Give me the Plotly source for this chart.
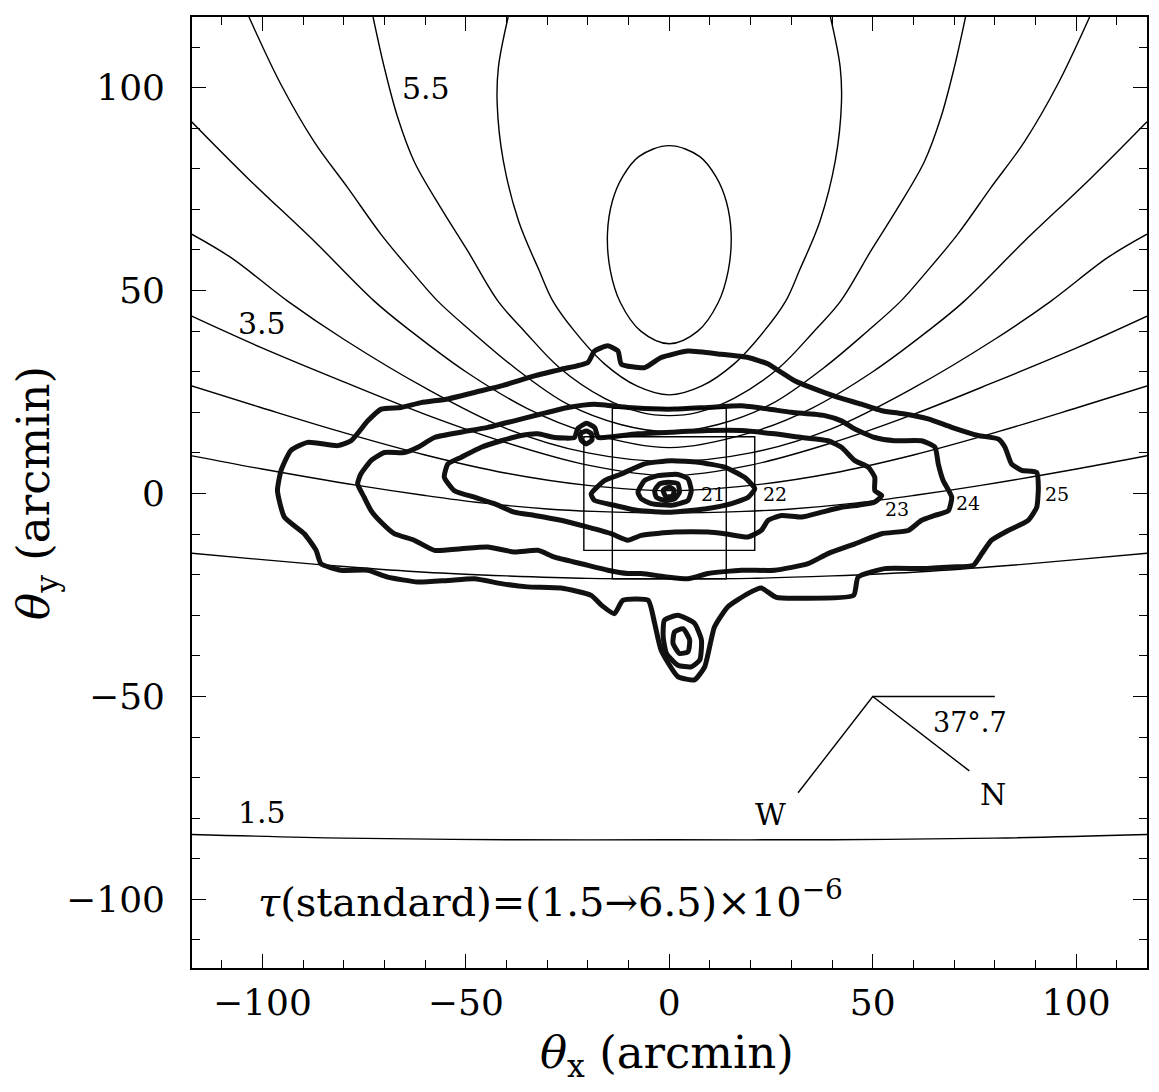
import math
import plotly.graph_objects as go

# ---------------- data (arcmin) ----------------
# optical-depth contours tau = 1.5 ... 6.5 (x 1e-6)
TAU_15_X = [-117.4, -80, -40, 0, 40, 80, 117.4]
TAU_15_Y = [-84.0, -84.9, -85.3, -85.3, -85.3, -84.9, -84.0]
TAU_20_X = [-117.4, -100, -80, -60, -40, -20, 0, 20, 40, 60, 80, 100, 117.4]
TAU_20_Y = [-14.7, -16.3, -18.0, -19.4, -20.3, -20.9, -21.0, -20.9, -20.3, -19.4, -18.0, -16.3, -14.7]
TAU_25_X = [-117.4, -100.4, -76.6, -60, -46.2, -30, -18.5, 0, 18.5, 30, 46.2, 60, 76.6, 100.4, 117.4]
TAU_25_Y = [9.3, 6.1, 2.0, -0.5, -2.3, -3.8, -4.4, -4.8, -4.4, -3.8, -2.3, -0.5, 2.0, 6.1, 9.3]
TAU_30_X = [-117.4, -100.4, -80, -60, -40, -20, 0, 20, 40, 60, 80, 100.4, 117.4]
TAU_30_Y = [26.5, 21.2, 15.0, 9.5, 5.0, 2.0, 0.7, 2.0, 5.0, 9.5, 15.0, 21.2, 26.5]
TAU_35_X = [-117.4, -100.4, -80, -60, -40, -20, 0, 20, 40, 60, 80, 100.4, 117.4]
TAU_35_Y = [43.7, 36.0, 27.5, 19.5, 12.5, 7.0, 4.4, 7.0, 12.5, 19.5, 27.5, 36.0, 43.7]
TAU_40_X = [-117.4, -107.7, -93.8, -80, -60, -40, -20, 0, 20, 40, 60, 80, 93.8, 107.7, 117.4]
TAU_40_Y = [63.9, 58.1, 47.4, 38.0, 26.0, 16.0, 10.0, 7.9, 10.0, 16.0, 26.0, 38.0, 47.4, 58.1, 63.9]
TAU_45_X = [-117.4, -103.6, -87.3, -72.5, -63.5, -50, -35, -20, 0, 20, 35, 50, 63.5, 72.5, 87.3, 103.6, 117.4]
TAU_45_Y = [91.6, 77.7, 62.2, 47.4, 40.0, 30.0, 21.0, 15.0, 11.3, 15.0, 21.0, 30.0, 40.0, 47.4, 62.2, 77.7, 91.6]
TAU_50_X = [-103.3, -95.4, -87.3, -79, -70.8, -62.7, -56.9, -48.7, -38, -25, -12, 0,
            12, 25, 38, 48.7, 56.9, 62.7, 70.8, 79, 87.3, 95.4, 103.3]
TAU_50_Y = [117.4, 100.7, 86.7, 75.3, 63.8, 54.0, 47.4, 40.0, 31.0, 22.0, 17.0, 15.2,
            17.0, 22.0, 31.0, 40.0, 47.4, 54.0, 63.8, 75.3, 86.7, 100.7, 117.4]
TAU_55_X = [-72.8, -70, -66.7, -62.7, -56.1, -49.5, -42.1, -35.6, -27, -16, -7, 0,
            7, 16, 27, 35.6, 42.1, 49.5, 56.1, 62.7, 66.7, 70, 72.8]
TAU_55_Y = [117.4, 104.8, 92.5, 81.8, 70.3, 59.7, 47.4, 40.0, 31.0, 23.5, 20.0, 19.2,
            20.0, 23.5, 31.0, 40.0, 47.4, 59.7, 70.3, 81.8, 92.5, 104.8, 117.4]
TAU_60_X = [-39.6, -42.0, -42.3, -40.8, -37, -32, -28.6, -23.3, -16, -8, 0,
            8, 16, 23.3, 28.6, 32, 37, 40.8, 42.3, 42.0, 39.6]
TAU_60_Y = [117.4, 105, 96, 82, 67, 55, 47.4, 40.0, 32.0, 26.5, 24.3,
            26.5, 32.0, 40.0, 47.4, 55, 67, 82, 96, 105, 117.4]
TAU_65_X = [0, 7.5, 11.5, 14, 15.2, 14.5, 12, 7, 0, -7, -12, -14.5, -15.2, -14, -11.5, -7.5, 0]
TAU_65_Y = [85.7, 83, 78, 72, 64, 55, 47, 40, 36.9, 40, 47, 55, 64, 72, 78, 83, 85.7]

# surface-brightness isophotes (mag arcsec^-2)
ISO_25_X = [-96.3, -95.4, -93.0, -88.9, -81.5, -78.2, -74.1, -70.8, -65.9, -61.0, -54.4, -47.9,
            -41.3, -33.1, -26.6, -20.0, -18.4, -15.1, -12.6, -11.8, -6.1, -2.0, 4.6, 12.8, 19.4,
            24.3, 27.6, 30.8, 34.9, 41.5, 47.2, 52.2, 57.1, 63.6, 69.4, 75.9, 80.9, 82.5, 84.1,
            86.6, 90.3, 90.7, 90.3, 88.2, 83.3, 79.2, 76.8, 74.7, 69.4, 62.0, 53.0, 46.4, 45.3,
            32.5, 26.3, 22.6, 19.4, 14.4, 11.1, 8.7, 6.2, 2.1, -2.0, -3.6, -5.2, -11.4, -13.5,
            -16.7, -19.2, -26.6, -34.8, -41.3, -47.9, -54.4, -61.8, -69.2, -74.1, -80.7, -85.6,
            -86.8, -89.7, -94.6, -96.3]
ISO_25_Y = [0.7, 5.7, 10.6, 12.6, 11.8, 13.0, 17.9, 20.8, 21.2, 22.4, 23.3, 24.9,
            26.5, 29.0, 30.6, 32.3, 35.1, 36.4, 35.1, 31.9, 31.0, 33.5, 35.1, 34.3, 33.5,
            31.9, 29.8, 27.8, 26.1, 23.7, 22.0, 20.4, 19.7, 18.4, 16.3, 14.3, 13.4, 11.4, 7.3,
            5.7, 5.2, 1.5, -3.4, -6.6, -9.1, -11.5, -14.8, -17.7, -18.1, -18.5, -18.5, -20.6, -25.1,
            -25.8, -25.6, -23.3, -24.6, -27.9, -32.9, -42.7, -45.9, -45.1, -38.6, -32.0, -26.3, -26.3, -29.6,
            -27.5, -25.1, -23.3, -23.0, -22.2, -21.0, -21.4, -21.8, -20.6, -18.9, -18.9, -17.3,
            -14.0, -9.9, -5.8, 0.7]
ISO_24_X = [-76.6, -75.8, -73.3, -70.0, -65.1, -61.8, -57.7, -51.2, -44.6, -38.1, -31.5, -24.9,
            -18.4, -10.2, -2.0, 1.3, 9.5, 17.7, 24.3, 30.0, 38.2, 42.3, 45.6, 50.5, 55.4, 62.0,
            65.3, 66.1, 67.3, 69.4, 68.6, 65.3, 62.0, 58.7, 52.2, 45.6, 39.0, 34.1, 25.9, 17.7,
            9.5, 4.6, -0.3, -6.9, -10.2, -15.1, -21.6, -28.2, -32.3, -38.1, -44.6, -51.2, -57.7,
            -62.7, -67.6, -70.8, -73.3, -75.0, -76.6]
ISO_24_Y = [2.4, 4.8, 8.1, 10.1, 10.1, 11.4, 13.8, 15.1, 16.3, 17.9, 19.6, 21.2,
            22.0, 21.2, 20.8, 20.8, 21.2, 21.6, 20.8, 20.0, 19.2, 17.9, 15.9, 13.8, 13.0, 13.0,
            11.4, 7.3, 3.2, -0.9, -4.2, -5.4, -6.6, -9.1, -9.9, -12.4, -14.8, -17.3, -18.9, -18.9,
            -19.7, -21.0, -20.6, -19.7, -19.7, -18.9, -17.3, -15.7, -14.0, -14.4, -13.2, -13.6, -14.0,
            -11.5, -9.9, -7.1, -4.2, -0.9, 2.4]
ISO_23_X = [-55.3, -54.4, -51.2, -46.2, -41.3, -36.4, -32.3, -28.2, -23.3, -22.5, -20.4, -18.3,
            -17.5, -15.9, -7.7, 0.5, 9.5, 17.7, 25.9, 32.5, 39.0, 42.3, 45.6, 48.9, 50.5, 50.5,
            52.2, 50.5, 46.4, 42.3, 37.4, 32.5, 27.6, 24.3, 22.6, 19.4, 13.6, 9.5, 1.3, -6.9,
            -10.2, -14.3, -20.0, -26.6, -33.1, -38.1, -43.0, -47.9, -52.8, -55.3]
ISO_23_Y = [4.0, 7.3, 8.9, 11.4, 13.0, 14.3, 14.7, 13.8, 13.8, 16.0, 17.3, 16.2,
            13.8, 13.8, 14.7, 15.1, 15.5, 15.5, 14.7, 13.8, 13.0, 11.4, 8.1, 6.5, 4.0, 0.7,
            -0.5, -2.1, -2.9, -3.4, -4.6, -5.8, -5.4, -6.6, -9.1, -10.7, -9.9, -9.5, -9.5, -10.3,
            -11.5, -9.9, -8.3, -6.6, -5.4, -4.6, -2.5, -0.9, 0.7, 4.0]
ISO_23B_X = [-20.4, -19.2, -19.0, -20.4, -21.7, -21.8, -20.4]
ISO_23B_Y = [15.4, 14.8, 13.2, 12.2, 13.2, 14.8, 15.4]
ISO_22_X = [-19.2, -15.9, -11.8, -6.1, 0.5, 7.1, 13.6, 18.5, 21.0, 19.4, 15.3, 8.7, 0.5, -7.7, -13.5, -18.4, -19.2]
ISO_22_Y = [-0.1, 3.2, 4.8, 7.3, 8.1, 7.7, 6.5, 4.0, 1.2, -0.9, -2.5, -3.8, -4.6, -4.2, -2.9, -1.7, -0.1]
ISO_21_X = [-7.7, -6.1, -2.8, 2.1, 4.6, 5.4, 4.6, 0.5, -4.4, -6.9, -7.7]
ISO_21_Y = [0.3, 3.2, 4.4, 4.7, 3.6, 0.7, -1.7, -2.9, -2.5, -1.3, 0.3]
ISO_20_X = [-3.6, -2.4, -0.3, 2.1, 2.5, 1.3, -1.2, -3.2, -3.6]
ISO_20_Y = [0.7, 2.4, 2.8, 2.4, 0.3, -1.3, -1.7, -0.9, 0.7]
ISO_19_X = [-1.5, 0.0, 1.2, 0.8, -0.8, -1.5]
ISO_19_Y = [0.8, 1.6, 0.8, -0.6, -0.8, 0.8]
SAT_OUT_X = [-1.2, 2.1, 6.2, 7.9, 7.5, 5.4, 2.1, -0.7, -1.5, -1.2]
SAT_OUT_Y = [-31.2, -30.0, -32.0, -36.1, -41.0, -42.7, -42.3, -39.4, -35.3, -31.2]
SAT_IN_X = [1.3, 3.4, 5.0, 4.6, 2.5, 0.9, 1.3]
SAT_IN_Y = [-34.1, -33.3, -36.1, -39.0, -39.4, -36.9, -34.1]

# survey fields (arcmin): full width / height of the two rectangles
FIELD_W = [42, 28]
FIELD_H = [28, 42]

# labels
TAU_LABELS = ["1.5", "3.5", "5.5"]
TAU_LABEL_X = [-100, -100, -59.7]
TAU_LABEL_Y = [-78.5, 42.0, 99.7]
ISO_LABELS = ["21", "22", "23", "24", "25"]
ISO_LABEL_X = [10.8, 26.0, 56.0, 73.5, 95.3]
ISO_LABEL_Y = [0.0, 0.0, -3.8, -2.3, 0.0]

# compass
CMP_X0, CMP_Y0 = 50.0, -50.0
CMP_LEN = 30.0
CMP_ANGLE = 37.7

XRANGE = [-117.3, 117.4]
YRANGE = [-116.9, 117.4]

FONT = "DejaVu Serif"

fig = go.Figure()

thin = [
    (TAU_15_X, TAU_15_Y), (TAU_20_X, TAU_20_Y), (TAU_25_X, TAU_25_Y), (TAU_30_X, TAU_30_Y),
    (TAU_35_X, TAU_35_Y), (TAU_40_X, TAU_40_Y), (TAU_45_X, TAU_45_Y), (TAU_50_X, TAU_50_Y),
    (TAU_55_X, TAU_55_Y), (TAU_60_X, TAU_60_Y), (TAU_65_X, TAU_65_Y),
]
for xs, ys in thin:
    fig.add_trace(go.Scatter(x=xs, y=ys, mode="lines",
                             line=dict(color="black", width=1.4, shape="spline", smoothing=1.0),
                             hoverinfo="skip", showlegend=False))

# rectangles
for w, h in zip(FIELD_W, FIELD_H):
    fig.add_shape(type="rect", x0=-w / 2, x1=w / 2, y0=-h / 2, y1=h / 2,
                  line=dict(color="black", width=1.4), fillcolor="rgba(0,0,0,0)")

thick = [
    (ISO_25_X, ISO_25_Y), (ISO_24_X, ISO_24_Y), (ISO_23_X, ISO_23_Y), (ISO_23B_X, ISO_23B_Y),
    (ISO_22_X, ISO_22_Y), (ISO_21_X, ISO_21_Y), (ISO_20_X, ISO_20_Y), (ISO_19_X, ISO_19_Y),
    (SAT_OUT_X, SAT_OUT_Y), (SAT_IN_X, SAT_IN_Y),
]
for xs, ys in thick:
    fig.add_trace(go.Scatter(x=xs, y=ys, mode="lines",
                             line=dict(color="#111111", width=5, shape="spline", smoothing=0.5),
                             hoverinfo="skip", showlegend=False))

# compass
a = math.radians(CMP_ANGLE)
cx = [CMP_X0 - CMP_LEN * math.sin(a), CMP_X0, CMP_X0 + CMP_LEN * math.cos(a), None, CMP_X0, CMP_X0 + CMP_LEN]
cy = [CMP_Y0 - CMP_LEN * math.cos(a), CMP_Y0, CMP_Y0 - CMP_LEN * math.sin(a), None, CMP_Y0, CMP_Y0]
fig.add_trace(go.Scatter(x=cx, y=cy, mode="lines", line=dict(color="black", width=1.4),
                         hoverinfo="skip", showlegend=False))

ann = []
for t, x, y in zip(TAU_LABELS, TAU_LABEL_X, TAU_LABEL_Y):
    ann.append(dict(x=x, y=y, text=t, showarrow=False, font=dict(family=FONT, size=30, color="black")))
for t, x, y in zip(ISO_LABELS, ISO_LABEL_X, ISO_LABEL_Y):
    ann.append(dict(x=x, y=y, text=t, showarrow=False, font=dict(family=FONT, size=19, color="black")))
ann.append(dict(x=74.0, y=-56.3, text="37°.7", showarrow=False, font=dict(family=FONT, size=27, color="black")))
ann.append(dict(x=79.6, y=-74.2, text="N", showarrow=False, font=dict(family=FONT, size=30, color="black")))
ann.append(dict(x=24.8, y=-79.1, text="W", showarrow=False, font=dict(family=FONT, size=30, color="black")))
ann.append(dict(x=-101.5, y=-100.0, xanchor="left", text="<i>τ</i>(standard)=(1.5→6.5)×10<sup>−6</sup>",
                showarrow=False, font=dict(family=FONT, size=40, color="black")))
# axis titles
ann.append(dict(xref="paper", yref="paper", x=0.497, y=-0.092, xanchor="center", yanchor="middle",
                text="<i>θ</i><sub>x</sub> (arcmin)",
                showarrow=False, font=dict(family=FONT, size=45, color="black")))
ann.append(dict(xref="paper", yref="paper", x=-0.164, y=0.5, xanchor="center", yanchor="middle",
                text="<i>θ</i><sub>y</sub> (arcmin)", textangle=-90,
                showarrow=False, font=dict(family=FONT, size=45, color="black")))

axis_common = dict(showgrid=False, zeroline=False, showline=True, linecolor="black", linewidth=1.6,
                   mirror="allticks", ticks="inside", ticklen=14, tickwidth=1.4, tickcolor="black",
                   dtick=50, tick0=0,
                   minor=dict(dtick=10, tick0=0, ticks="inside", ticklen=8, tickwidth=1.2, tickcolor="black"),
                   tickfont=dict(family=FONT, size=36, color="black"))

fig.update_layout(
    width=1151, height=1084,
    margin=dict(l=184, r=12, t=7, b=124),
    paper_bgcolor="white", plot_bgcolor="white",
    xaxis=dict(range=XRANGE, ticklabelstandoff=2, **axis_common),
    yaxis=dict(range=YRANGE, ticklabelstandoff=18, **axis_common),
    annotations=ann,
    showlegend=False,
)

fig.write_html("out.html")
